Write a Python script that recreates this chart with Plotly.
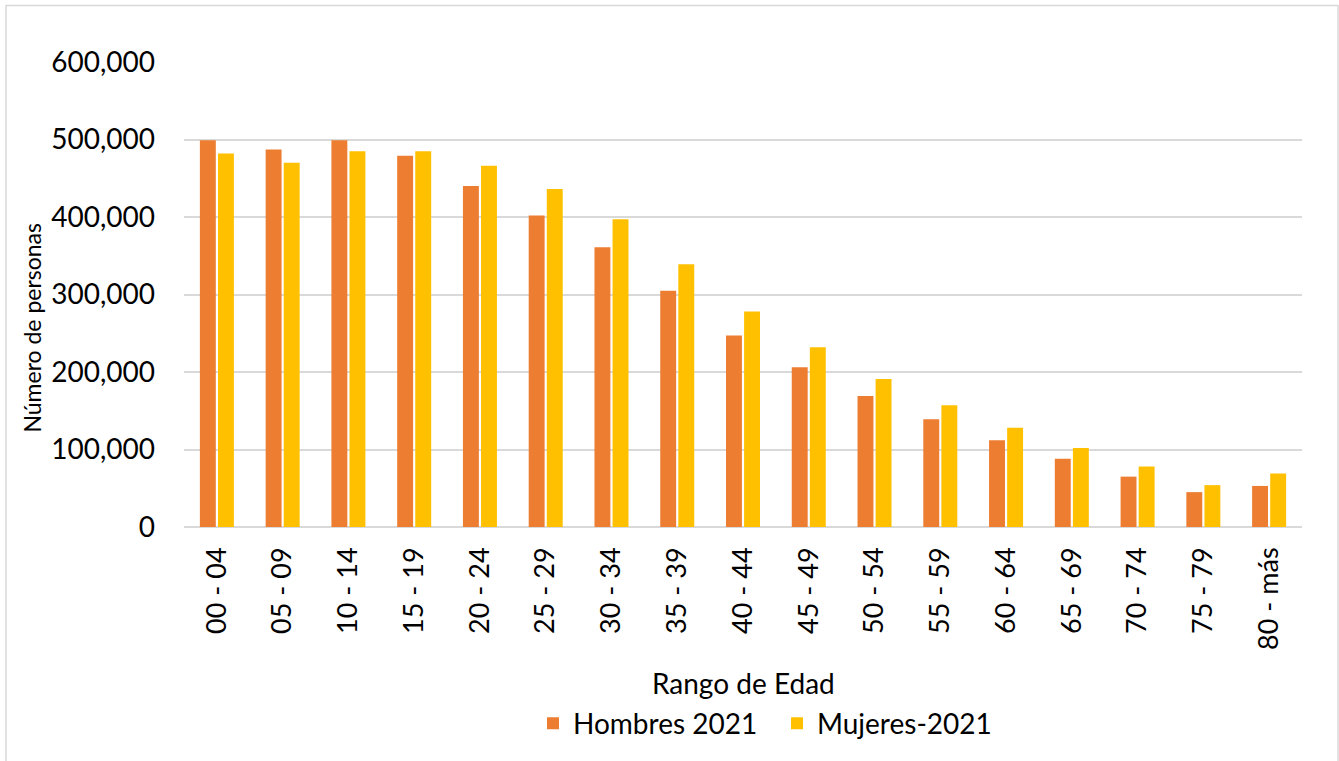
import plotly.graph_objects as go

categorias = ["00 - 04", "05 - 09", "10 - 14", "15 - 19", "20 - 24", "25 - 29", "30 - 34",
              "35 - 39", "40 - 44", "45 - 49", "50 - 54", "55 - 59", "60 - 64", "65 - 69",
              "70 - 74", "75 - 79", "80 - más"]
hombres_2021 = [499000, 487000, 499000, 479000, 440000, 402000, 361000, 305000, 247000,
                206000, 169000, 139000, 112000, 88000, 65000, 45000, 53000]
mujeres_2021 = [482000, 470000, 485000, 485000, 466000, 436000, 397000, 339000, 278000,
                232000, 191000, 157000, 128000, 102000, 78000, 54000, 69000]

FONT = "Lato, Open Sans, sans-serif"

W, H = 1339, 761
L, R, T, B = 184, 37, 62, 221
PW, PH = W - L - R, H - T - B

def px_x(x):
    return (x - L) / PW

def px_y(y):
    return (H - B - y) / PH

fig = go.Figure()
fig.add_trace(go.Bar(x=categorias, y=hombres_2021, name="Hombres 2021",
                     marker=dict(color="#ED7D31", line=dict(width=0))))
fig.add_trace(go.Bar(x=categorias, y=mujeres_2021, name="Mujeres-2021",
                     marker=dict(color="#FFC000", line=dict(width=0))))

fig.update_layout(
    width=W, height=H,
    paper_bgcolor="white", plot_bgcolor="white",
    margin=dict(l=L, r=R, t=T, b=B),
    barmode="group", bargap=0.45, bargroupgap=0.12,
    font=dict(family=FONT, color="#000000"),
    xaxis=dict(
        tickangle=-90, tickfont=dict(size=27, family=FONT),
        showgrid=False, showline=False, ticks="", automargin=False,
        ticklabelstandoff=14,
    ),
    yaxis=dict(
        range=[0, 600000], tickvals=[0, 100000, 200000, 300000, 400000, 500000, 600000],
        tickformat=",d", tickfont=dict(size=28, family=FONT),
        showgrid=True, gridcolor="#D9D9D9", gridwidth=2, zeroline=True,
        zerolinecolor="#D9D9D9", zerolinewidth=2, ticks="", ticklabelstandoff=28,
        automargin=False,
    ),
    legend=dict(orientation="h", x=px_x(533), xanchor="left", y=px_y(742), yanchor="middle",
                font=dict(size=28, family=FONT), traceorder="normal",
                entrywidth=199, entrywidthmode="pixels"),
    annotations=[
        dict(text="Rango de Edad", xref="paper", yref="paper", x=px_x(743), y=px_y(700),
             xanchor="center", yanchor="middle", showarrow=False,
             font=dict(size=28, family=FONT)),
        dict(text="Número de personas", xref="paper", yref="paper", x=px_x(32), y=px_y(335),
             xanchor="center", yanchor="middle", showarrow=False, textangle=-90,
             font=dict(size=23, family=FONT)),
    ],
    shapes=[dict(type="rect", xref="paper", yref="paper",
                 x0=px_x(6), x1=px_x(1338), y0=px_y(800), y1=px_y(4),
                 line=dict(color="#D9D9D9", width=1.5), fillcolor="rgba(0,0,0,0)",
                 layer="below")],
)

fig.write_html("out.html", post_script="document.body.style.margin='0px';",
               config={"displayModeBar": False})
